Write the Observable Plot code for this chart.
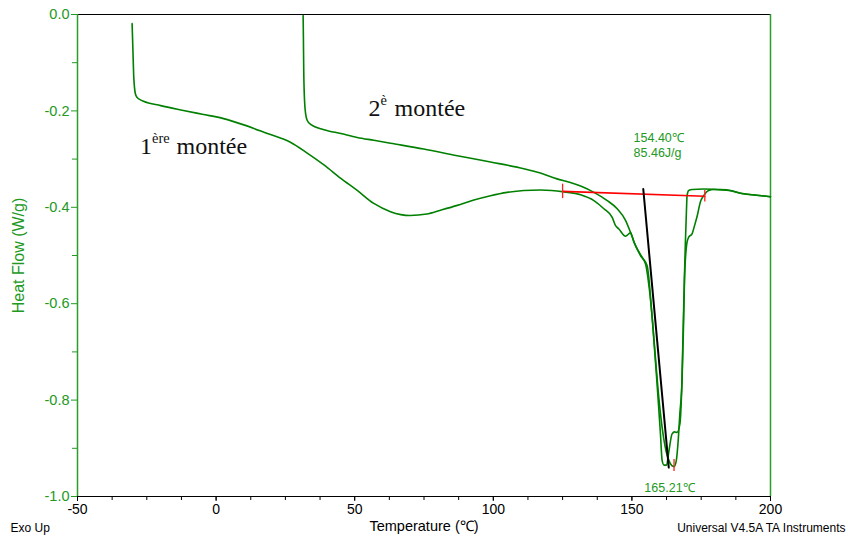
<!DOCTYPE html>
<html>
<head>
<meta charset="utf-8">
<script src="https://cdn.jsdelivr.net/npm/d3@7"></script>
<script src="https://cdn.jsdelivr.net/npm/@observablehq/plot@0.6"></script>
<style>
  html, body { margin: 0; padding: 0; background: #fff; }
</style>
</head>
<body>
<div id="chart"></div>
<script>
// ---- Data ----
const xMajorTicks = [-50, 0, 50, 100, 150, 200];
const xMinorTicks = d3.range(-50, 200.1, 12.5);
const yMajorTicks = [0, -0.2, -0.4, -0.6, -0.8, -1.0];
const yMinorTicks = [-0.1, -0.3, -0.5, -0.7, -0.9];

// 1st heating (1ère montée)
const curve1T = [-30.3,-30.0,-29.7,-29.1,-28.5,-27.3,-26.2,-20,-11.8,-5,2.7,10,18.5,26.8,33,38.9,45,50.9,56.9,62.9,70,76,81,87,93,99,105,111,117,121,125.5,131.5,136.3,139.9,142.9,144.1,145.3,147.7,149.5,150.7,153.1,154.9,156.3,157.5,158.6,159.8,161.1,162.3,163.4,164.4,165.2,166,166.7,167.3,168.1,168.6,169.0,169.9,170.5,171.7,172.6,173.6,174.7,175.9,177.7,179.5,185,189.2,195,200];
const curve1HF = [-0.019,-0.075,-0.130,-0.165,-0.172,-0.177,-0.180,-0.189,-0.199,-0.207,-0.216,-0.229,-0.247,-0.265,-0.288,-0.312,-0.340,-0.365,-0.392,-0.409,-0.417,-0.414,-0.406,-0.396,-0.385,-0.376,-0.369,-0.365,-0.364,-0.365,-0.368,-0.374,-0.386,-0.403,-0.421,-0.438,-0.445,-0.460,-0.453,-0.472,-0.500,-0.517,-0.570,-0.640,-0.720,-0.800,-0.865,-0.905,-0.926,-0.936,-0.938,-0.926,-0.884,-0.828,-0.759,-0.650,-0.545,-0.472,-0.462,-0.455,-0.438,-0.417,-0.389,-0.376,-0.365,-0.363,-0.365,-0.371,-0.375,-0.378];

// 2nd heating (2è montée)
const curve2T = [31.4,31.5,31.6,31.9,32.3,32.9,34.1,38.9,45,50.9,56.9,62.9,74.9,87.0,99.0,111.0,117,123.0,127.5,131.5,136.3,141.1,144.7,147.7,149.5,151.3,153.7,155.5,157.3,158.9,159.6,160.3,160.9,161.6,162.5,163.3,164.5,165.4,166.3,167.3,168.0,168.5,168.97,169.3,169.7,169.9,170.5,171.8,175.9,180.8,185.6,189.2,195,200];
const curve2HF = [-0.002,-0.05,-0.109,-0.178,-0.206,-0.220,-0.228,-0.239,-0.247,-0.255,-0.261,-0.267,-0.279,-0.293,-0.306,-0.320,-0.329,-0.341,-0.348,-0.356,-0.369,-0.386,-0.403,-0.427,-0.452,-0.479,-0.504,-0.521,-0.628,-0.752,-0.81,-0.87,-0.925,-0.935,-0.935,-0.908,-0.870,-0.866,-0.867,-0.850,-0.770,-0.650,-0.541,-0.472,-0.403,-0.376,-0.365,-0.363,-0.362,-0.363,-0.365,-0.371,-0.375,-0.378];

// Integration baseline (red) and onset tangent (black)
const baselineT = [125, 176.3];
const baselineHF = [-0.367, -0.377];
const tangentT = [154.1, 163.3];
const tangentHF = [-0.362, -0.940];

// Red limit markers
const markerT = [125, 176.3, 165.2];
const markerHFTop = [-0.352, -0.365, -0.923];
const markerHFBottom = [-0.382, -0.389, -0.948];

// Annotations
const annotT = [150.6, 150.6, 154.5];
const annotHF = [-0.265, -0.296, -0.990];
const annotText = ["154.40\u2103", "85.46J/g", "165.21\u2103"];

// Curve labels
const labelT = [-27.45, 55.0];
const labelHF = [-0.2884, -0.2116];
const labelMain = ["1", "2"];
const labelSup = ["ère", "è"];
const labelWord = ["montée", "montée"];

const green = "#008000";
const textGreen = "#229922";
const sans = "'Liberation Sans', Arial, sans-serif";
const serif = "'Liberation Serif', 'Times New Roman', serif";

const c1 = curve1T.map((t, i) => ({t, hf: curve1HF[i]}));
const c2 = curve2T.map((t, i) => ({t, hf: curve2HF[i]}));
const base = baselineT.map((t, i) => ({t, hf: baselineHF[i]}));
const tang = tangentT.map((t, i) => ({t, hf: tangentHF[i]}));
const markers = markerT.map((t, i) => ({t, y1: markerHFTop[i], y2: markerHFBottom[i]}));
const annots = annotT.map((t, i) => ({t, hf: annotHF[i], text: annotText[i]}));

function labelMarks(i) {
  const d = [{t: labelT[i], hf: labelHF[i]}];
  const supDx = 12;
  const wordDx = i === 0 ? 36.5 : 26;
  return [
    Plot.text(d, {x: "t", y: "hf", text: () => labelMain[i], textAnchor: "start", lineAnchor: "bottom", fontFamily: serif, fontSize: 24, fill: "#111"}),
    Plot.text(d, {x: "t", y: "hf", text: () => labelSup[i], textAnchor: "start", lineAnchor: "bottom", dx: supDx, dy: -11, fontFamily: serif, fontSize: 14.4, fill: "#111"}),
    Plot.text(d, {x: "t", y: "hf", text: () => labelWord[i], textAnchor: "start", lineAnchor: "bottom", dx: wordDx, fontFamily: serif, fontSize: 24, fill: "#111"})
  ];
}

const chart = Plot.plot({
  width: 848,
  height: 544,
  marginLeft: 77,
  marginRight: 78,
  marginTop: 14,
  marginBottom: 48,
  style: {fontFamily: sans, background: "#fff"},
  x: {domain: [-50, 200]},
  y: {domain: [-1, 0]},
  marks: [
    // frame
    Plot.ruleY([0], {stroke: "#000", strokeWidth: 1.2}),
    Plot.ruleY([-1], {stroke: "#000", strokeWidth: 1.2}),
    Plot.ruleX([-50], {stroke: "#2a9d2a", strokeWidth: 1.5}),
    Plot.ruleX([200], {stroke: "#2a9d2a", strokeWidth: 1.5}),
    // axes
    Plot.axisX({ticks: xMinorTicks, tickFormat: () => "", tickSize: 4, stroke: "#000", label: null}),
    Plot.axisX({ticks: xMajorTicks, tickFormat: d => String(d), tickSize: 5, tickPadding: 3, fontSize: 14, color: "#000", label: null}),
    Plot.axisY({ticks: yMinorTicks, tickFormat: () => "", tickSize: 5, stroke: textGreen, label: null}),
    Plot.axisY({ticks: yMajorTicks, tickFormat: d => d.toFixed(1), tickSize: 6, tickPadding: 2, fontSize: 14.5, color: textGreen, label: null}),
    // curves
    Plot.line(c1, {x: "t", y: "hf", stroke: green, strokeWidth: 1.6, curve: "monotone-x"}),
    Plot.line(c2, {x: "t", y: "hf", stroke: green, strokeWidth: 1.6, curve: "monotone-x"}),
    // analysis lines
    Plot.line(base, {x: "t", y: "hf", stroke: "#ff0000", strokeWidth: 1.6}),
    Plot.line(tang, {x: "t", y: "hf", stroke: "#000", strokeWidth: 2}),
    Plot.ruleX(markers, {x: "t", y1: "y1", y2: "y2", stroke: "#ff2020", strokeWidth: 1.3}),
    // annotations
    Plot.text(annots, {x: "t", y: "hf", text: "text", textAnchor: "start", lineAnchor: "bottom", fontSize: 12.5, fill: textGreen, fontFamily: sans}),
    ...labelMarks(0),
    ...labelMarks(1),
    // axis titles & footer
    Plot.text(["Heat Flow (W/g)"], {text: d => d, frameAnchor: "left", dx: -59, rotate: -90, textAnchor: "middle", fontSize: 16, fill: textGreen, fontFamily: sans}),
    Plot.text(["Temperature (\u2103)"], {text: d => d, frameAnchor: "bottom", dy: 34, textAnchor: "middle", fontSize: 14.5, fill: "#000", fontFamily: sans}),
    Plot.text(["Exo Up"], {text: d => d, frameAnchor: "bottom-left", dx: -67, dy: 35, textAnchor: "start", fontSize: 12, fill: "#000", fontFamily: sans}),
    Plot.text(["Universal V4.5A TA Instruments"], {text: d => d, frameAnchor: "bottom-right", dx: 75, dy: 35, textAnchor: "end", fontSize: 12, fill: "#000", fontFamily: sans})
  ]
});
document.getElementById("chart").appendChild(chart);
</script>
</body>
</html>
